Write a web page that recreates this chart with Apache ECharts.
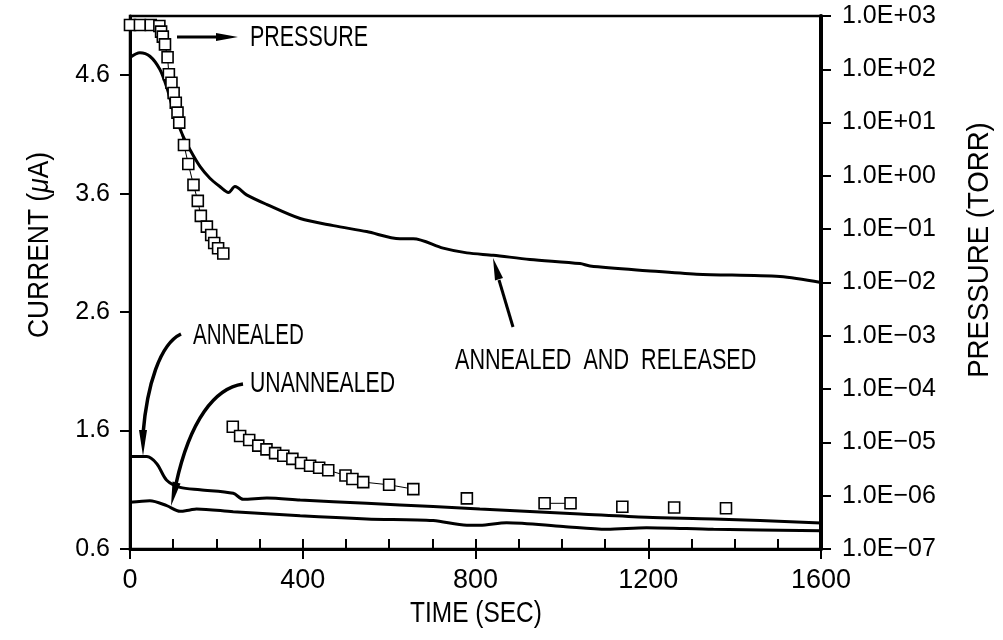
<!DOCTYPE html>
<html>
<head>
    <meta charset="utf-8">
    <title>Current and pressure vs time</title>
    <script src="https://cdn.jsdelivr.net/npm/echarts@6/dist/echarts.min.js"></script>
</head>
<body style="margin:0;background:#fff;">
    <div id="main" style="width:1003px;height:640px;"></div>
    <script type="text/javascript">
        // current curves
        var releasedTime = [0, 23, 46, 69, 85, 100, 120, 139, 162, 185, 208, 228, 243, 270, 316, 394, 471, 548, 625, 656, 725, 780, 841, 926, 1042, 1065, 1196, 1312, 1505, 1600];
        var releasedCurrent = [4.75, 4.79, 4.76, 4.65, 4.50, 4.31, 4.11, 3.97, 3.83, 3.73, 3.66, 3.61, 3.66, 3.59, 3.51, 3.39, 3.33, 3.28, 3.22, 3.22, 3.14, 3.10, 3.08, 3.045, 3.01, 2.99, 2.95, 2.92, 2.90, 2.85];

        var annealedTime = [0, 39, 62, 85, 116, 162, 239, 262, 317, 394, 548, 702, 810, 1042, 1196, 1351, 1600];
        var annealedCurrent = [1.38, 1.38, 1.32, 1.18, 1.12, 1.10, 1.07, 1.02, 1.03, 1.014, 0.986, 0.958, 0.938, 0.896, 0.868, 0.854, 0.82];

        var unannealedTime = [0, 46, 85, 116, 139, 154, 239, 394, 548, 702, 780, 810, 872, 1003, 1104, 1196, 1351, 1600];
        var unannealedCurrent = [0.994, 1.008, 0.966, 0.918, 0.93, 0.938, 0.915, 0.88, 0.854, 0.84, 0.80, 0.80, 0.822, 0.79, 0.766, 0.78, 0.766, 0.755];

        // pressure points (torr), null = gap in the connecting line
        var pressureTime = [0, 23, 48, 68, 72, 76, 81, 87, 90, 96, 101, 106, 110, 114, 125, 135, 147, 157, 164, 178, 188, 195, 204, 216, null,
            238, 255, 276, 297, 316, 336, 355, 376, 396, 417, 438, 459, 499, 515, 540, 600, 656, null,
            780, null, 960, 1020, null, 1140, null, 1260, null, 1380];
        var pressureTorr = [680, 680, 680, 650, 510, 410, 293, 168, 81, 56, 36, 23.6, 15.4, 10, 3.8, 1.67, 0.68, 0.34, 0.178, 0.112, 0.078, 0.055, 0.044, 0.035, null,
            1.97e-5, 1.32e-5, 1.11e-5, 8.7e-6, 7.4e-6, 6.3e-6, 5.6e-6, 4.9e-6, 4.1e-6, 3.65e-6, 3.35e-6, 3.0e-6, 2.4e-6, 2.06e-6, 1.8e-6, 1.6e-6, 1.33e-6, null,
            8.9e-7, null, 7.2e-7, 7.2e-7, null, 6.2e-7, null, 6.0e-7, null, 5.8e-7];

        // axis ticks
        var timeTicks = [0, 400, 800, 1200, 1600];
        var currentTicks = [0.6, 1.6, 2.6, 3.6, 4.6];
        var pressureTicks = [1e-7, 1e-6, 1e-5, 1e-4, 1e-3, 1e-2, 1e-1, 1e0, 1e1, 1e2, 1e3];

        function pairs(xs, ys) {
            return xs.map(function (x, i) {
                return (x === null || ys[i] === null) ? ['-', '-'] : [x, ys[i]];
            });
        }

        function sciLabel(v) {
            var e = Math.round(Math.log10(v));
            var sign = e < 0 ? '\u2212' : '+';
            var n = Math.abs(e);
            return '1.0E' + sign + (n < 10 ? '0' + n : '' + n);
        }

        var sans = "'Liberation Sans', Arial, sans-serif";
        var black = '#000';

        // condensed lettering: ordinary sans squeezed sideways
        function label(text, x, y, sx, opts) {
            opts = opts || {};
            return {
                type: 'text', x: x, y: y, scaleX: sx, rotation: opts.rotation || 0,
                style: {
                    text: text, font: '30px ' + sans, fill: black,
                    align: opts.align || 'left', textAlign: opts.align || 'left',
                    verticalAlign: 'middle', textVerticalAlign: 'middle',
                    rich: { i: { font: 'italic 30px ' + sans, fill: black } }
                }
            };
        }

        var curveLine = { color: black, width: 3 };

        var myChart = echarts.init(document.getElementById('main'));

        var option = {
            backgroundColor: '#fff',
            animation: false,
            grid: {
                left: 130, right: 182, top: 16, bottom: 91,
                show: true, borderColor: black, borderWidth: 2.5,
                outerBoundsMode: 'none'
            },
            xAxis: [{
                type: 'value', min: 0, max: 1600, interval: 100,
                axisLine: { onZero: false, lineStyle: { color: black, width: 3 } },
                axisTick: { inside: true, length: 10, lineStyle: { color: black, width: 2 } },
                axisLabel: { customValues: timeTicks, margin: 18, fontFamily: sans, fontSize: 27, color: black,
                    formatter: function (v) { return String(v); } },
                splitLine: { show: false }
            }, {
                // longer marks under the labelled times
                type: 'value', min: 0, max: 1600, interval: 400, position: 'bottom',
                axisLine: { show: false, onZero: false },
                axisTick: { length: 10, lineStyle: { color: black, width: 2 } },
                axisLabel: { show: false },
                splitLine: { show: false }
            }],
            yAxis: [{
                type: 'value', min: 0.6, max: 5.1,
                axisLine: { show: true, onZero: false, lineStyle: { color: black, width: 3 } },
                axisTick: { show: true, customValues: currentTicks, length: 10, lineStyle: { color: black, width: 2 } },
                axisLabel: { customValues: currentTicks, margin: 20, fontFamily: sans, fontSize: 25, color: black,
                    formatter: function (v) { return v.toFixed(1); } },
                splitLine: { show: false }
            }, {
                type: 'log', logBase: 10, min: 1e-7, max: 1e3, position: 'right',
                axisLine: { show: true, onZero: false, lineStyle: { color: black, width: 4 } },
                axisTick: { show: true, customValues: pressureTicks, length: 10, lineStyle: { color: black, width: 2 } },
                axisLabel: { customValues: pressureTicks, margin: 21, fontFamily: sans, fontSize: 25, color: black,
                    formatter: sciLabel },
                splitLine: { show: false }
            }],
            series: [{
                name: 'ANNEALED AND RELEASED', type: 'line', yAxisIndex: 0,
                data: pairs(releasedTime, releasedCurrent),
                smooth: 0.3, showSymbol: false, lineStyle: curveLine, z: 2
            }, {
                name: 'ANNEALED', type: 'line', yAxisIndex: 0,
                data: pairs(annealedTime, annealedCurrent),
                smooth: 0.3, showSymbol: false, lineStyle: curveLine, z: 2
            }, {
                name: 'UNANNEALED', type: 'line', yAxisIndex: 0,
                data: pairs(unannealedTime, unannealedCurrent),
                smooth: 0.3, showSymbol: false, lineStyle: curveLine, z: 2
            }, {
                name: 'PRESSURE', type: 'line', yAxisIndex: 1,
                data: pairs(pressureTime, pressureTorr),
                connectNulls: false,
                symbol: 'rect', symbolSize: 11, showSymbol: true,
                itemStyle: { color: '#fff', borderColor: black, borderWidth: 1.6 },
                lineStyle: { color: black, width: 1 }, z: 3
            }],
            graphic: [
                // axis titles
                label('TIME (SEC)', 476, 614, 0.815, { align: 'center' }),
                label('CURRENT ({i|\u03bc}A)', 40, 245, 0.88, { align: 'center', rotation: Math.PI / 2 }),
                label('PRESSURE (TORR)', 980, 250, 0.92, { align: 'center', rotation: Math.PI / 2 }),
                // PRESSURE label and arrow
                { type: 'line', shape: { x1: 177, y1: 37, x2: 222, y2: 37 }, style: { stroke: black, lineWidth: 3 } },
                { type: 'polygon', shape: { points: [[238, 37], [216, 33], [216, 41]] }, style: { fill: black } },
                label('PRESSURE', 250, 38, 0.715),
                // ANNEALED
                label('ANNEALED', 193, 336, 0.685),
                { type: 'bezierCurve', shape: { x1: 181, y1: 334, cpx1: 160, cpy1: 344, cpx2: 147, cpy2: 385, x2: 143, y2: 434 }, style: { stroke: black, lineWidth: 3.5, fill: null } },
                { type: 'polygon', shape: { points: [[143, 456], [139, 430], [147, 430]] }, style: { fill: black } },
                // UNANNEALED
                label('UNANNEALED', 250, 384, 0.707),
                { type: 'bezierCurve', shape: { x1: 243, y1: 384, cpx1: 215, cpy1: 388, cpx2: 190, cpy2: 420, x2: 176, y2: 484 }, style: { stroke: black, lineWidth: 3.5, fill: null } },
                { type: 'polygon', shape: { points: [[171, 506], [180.5, 483.5], [172.5, 481.5]] }, style: { fill: black } },
                // ANNEALED AND RELEASED
                label('ANNEALED  AND  RELEASED', 455, 361, 0.72),
                { type: 'line', shape: { x1: 513, y1: 327, x2: 499, y2: 280 }, style: { stroke: black, lineWidth: 3 } },
                { type: 'polygon', shape: { points: [[493, 258], [503, 278], [495, 280.5]] }, style: { fill: black } }
            ]
        };

        myChart.setOption(option);
    </script>
</body>
</html>
